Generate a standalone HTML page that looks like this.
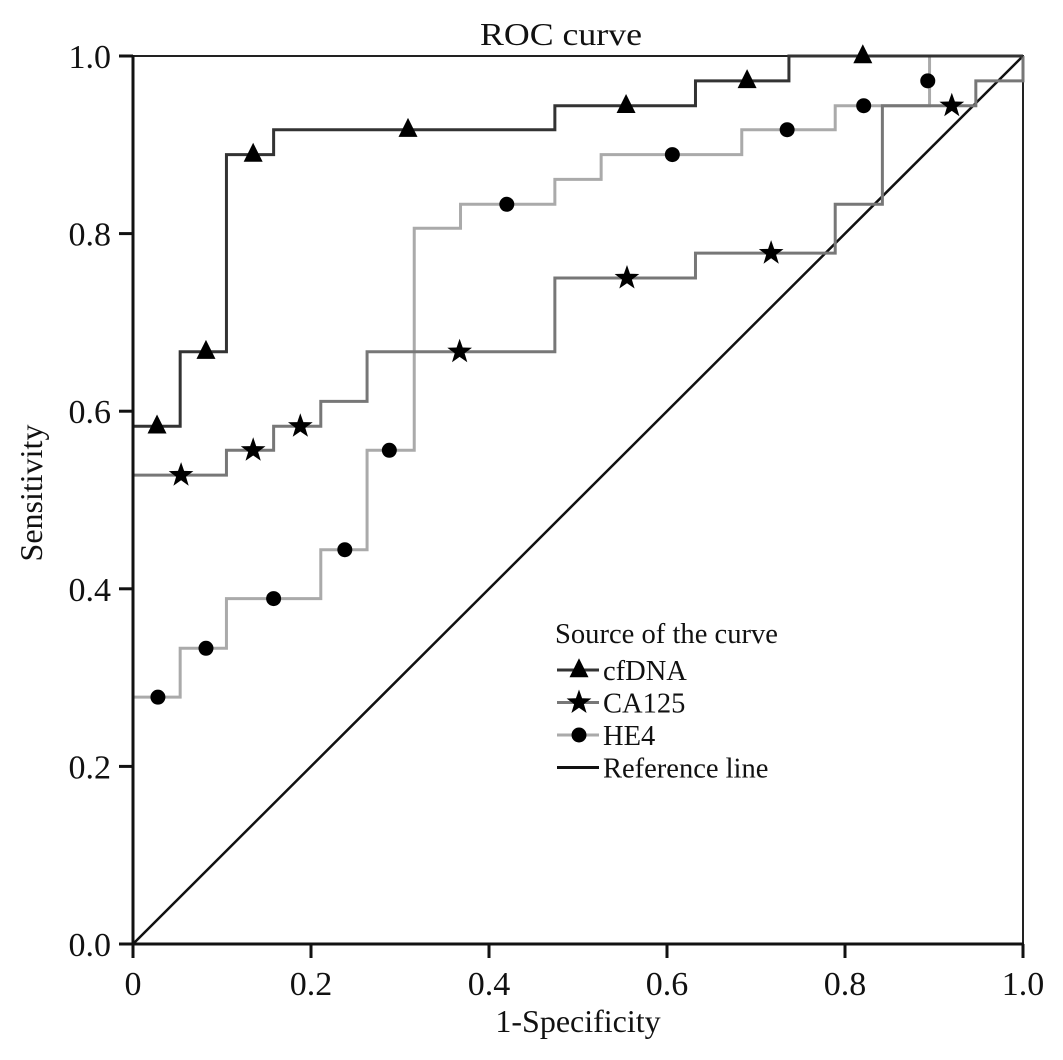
<!DOCTYPE html>
<html><head><meta charset="utf-8"><style>
html,body{margin:0;padding:0;background:#fff;}
svg{display:block;font-family:"Liberation Serif",serif;}
</style></head><body>
<svg id="chart" width="1063" height="1060" viewBox="0 0 1063 1060" xmlns="http://www.w3.org/2000/svg">
<rect width="1063" height="1060" fill="#fff"/>
<g id="plot"></g>
</svg>
<script>
// Step-curve vertices: at each x the curve rises to y
const cfX = [0, 0.053, 0.105, 0.158, 0.474, 0.632, 0.737];
const cfY = [0.583, 0.667, 0.889, 0.917, 0.944, 0.972, 1.0];
const caX = [0, 0.105, 0.158, 0.211, 0.263, 0.474, 0.632, 0.789, 0.842, 0.947];
const caY = [0.528, 0.556, 0.583, 0.611, 0.667, 0.750, 0.778, 0.833, 0.944, 0.972];
const heX = [0, 0.053, 0.105, 0.211, 0.263, 0.316, 0.368, 0.474, 0.526, 0.684, 0.789, 0.895];
const heY = [0.278, 0.333, 0.389, 0.444, 0.556, 0.806, 0.833, 0.861, 0.889, 0.917, 0.944, 1.0];
// Marker positions
const cfMX = [0.027, 0.082, 0.135, 0.309, 0.554, 0.690, 0.820];
const cfMY = [0.583, 0.667, 0.889, 0.917, 0.944, 0.972, 1.0];
const caMX = [0.054, 0.135, 0.188, 0.367, 0.555, 0.717, 0.920];
const caMY = [0.528, 0.556, 0.583, 0.667, 0.750, 0.778, 0.944];
const heMX = [0.028, 0.082, 0.158, 0.238, 0.288, 0.420, 0.606, 0.735, 0.821, 0.893];
const heMY = [0.278, 0.333, 0.389, 0.444, 0.556, 0.833, 0.889, 0.917, 0.944, 0.972];
const xTicks = [0, 0.2, 0.4, 0.6, 0.8, 1.0];
const xTickLabels = ["0", "0.2", "0.4", "0.6", "0.8", "1.0"];
const yTicks = [0, 0.2, 0.4, 0.6, 0.8, 1.0];
const yTickLabels = ["0.0", "0.2", "0.4", "0.6", "0.8", "1.0"];
const seriesNames = ["cfDNA", "CA125", "HE4", "Reference line"];

const X0 = 133, X1 = 1023, Y0 = 944, Y1 = 56;
const sx = v => X0 + (X1 - X0) * v;
const sy = v => Y0 - (Y0 - Y1) * v;
const NS = "http://www.w3.org/2000/svg";
const plot = document.getElementById("plot");
function mk(tag, attrs, parent) {
  const e = document.createElementNS(NS, tag);
  for (const k in attrs) e.setAttribute(k, attrs[k]);
  (parent || plot).appendChild(e);
  return e;
}
let e;
e = mk("path", {d: `M${X0} ${Y1} H${X1} V${Y0}`, fill: "none", stroke: "#222", "stroke-width": 2});



function stepPath(xs, ys) {
  let d = `M${sx(xs[0])} ${sy(0)}`;
  for (let i = 0; i < xs.length; i++) {
    d += ` V${sy(ys[i])}`;
    d += ` H${sx(i + 1 < xs.length ? xs[i + 1] : 1)}`;
  }
  d += ` V${sy(1)}`;
  return d;
}
function triangle(cx, cy, s) {
  return `M${cx} ${cy - s * 0.62} L${cx + s / 2} ${cy + s * 0.38} L${cx - s / 2} ${cy + s * 0.38}Z`;
}
function star(cx, cy, R) {
  let d = "", r = R * 0.4;
  for (let i = 0; i < 10; i++) {
    const a = -Math.PI / 2 + i * Math.PI / 5, rr = i % 2 ? r : R;
    d += (i ? "L" : "M") + (cx + rr * Math.cos(a)).toFixed(1) + " " + (cy + rr * Math.sin(a)).toFixed(1);
  }
  return d + "Z";
}
function marker(kind, cx, cy, name) {
  let m;
  if (kind === "tri") m = mk("path", {d: triangle(cx, cy, 19), fill: "#000"});
  else if (kind === "star") m = mk("path", {d: star(cx, cy, 13), fill: "#000"});
  else m = mk("circle", {cx: cx, cy: cy, r: 7.5, fill: "#000"});
  
  
}

e = mk("line", {x1: sx(0), y1: sy(0), x2: sx(1), y2: sy(1), stroke: "#111", "stroke-width": 2.5});



e = mk("path", {d: stepPath(heX, heY), fill: "none", stroke: "#aaa", "stroke-width": 3});


e = mk("path", {d: stepPath(caX, caY), fill: "none", stroke: "#777", "stroke-width": 3});


e = mk("path", {d: stepPath(cfX, cfY), fill: "none", stroke: "#333", "stroke-width": 3});



heMX.forEach((v, i) => marker("dot", sx(v), sy(heMY[i]), "he4-point"));
caMX.forEach((v, i) => marker("star", sx(v), sy(caMY[i]), "ca125-point"));
cfMX.forEach((v, i) => marker("tri", sx(v), sy(cfMY[i]), "cfdna-point"));

e = mk("line", {x1: X0, y1: Y1 - 1, x2: X0, y2: Y0 + 2, stroke: "#111", "stroke-width": 3});


e = mk("line", {x1: X0 - 1, y1: Y0, x2: X1 + 1, y2: Y0, stroke: "#111", "stroke-width": 3});



xTicks.forEach((v, i) => {
  const t = mk("line", {x1: sx(v), y1: Y0, x2: sx(v), y2: Y0 + 14, stroke: "#111", "stroke-width": 3});
  
  
  const l = mk("text", {x: sx(v), y: 995, "font-size": 34, "text-anchor": "middle", fill: "#111"});
  l.textContent = xTickLabels[i];
  
  
});
yTicks.forEach((v, i) => {
  const t = mk("line", {x1: X0 - 14, y1: sy(v), x2: X0, y2: sy(v), stroke: "#111", "stroke-width": 3});
  
  
  const l = mk("text", {x: 111, y: sy(v) + 12, "font-size": 34, "text-anchor": "end", fill: "#111"});
  l.textContent = yTickLabels[i];
  
  
});

e = mk("text", {x: 561, y: 45, "font-size": 32, "text-anchor": "middle", fill: "#111", textLength: 162, lengthAdjust: "spacingAndGlyphs"});
e.textContent = "ROC curve";


e = mk("text", {x: 578, y: 1032, "font-size": 32, "text-anchor": "middle", fill: "#111"});
e.textContent = "1-Specificity";


e = mk("text", {x: 0, y: 0, "font-size": 32, "text-anchor": "middle", fill: "#111", transform: "translate(42 493) rotate(-90)"});
e.textContent = "Sensitivity";



e = mk("text", {x: 555, y: 643, "font-size": 28, fill: "#111", textLength: 223, lengthAdjust: "spacingAndGlyphs"});
e.textContent = "Source of the curve";


const legColors = ["#333", "#777", "#aaa", "#111"];
const legKinds = ["tri", "star", "dot", null];
seriesNames.forEach((n, i) => {
  const cy = 670 + i * 32.5;
  const ln = mk("line", {x1: 557, y1: cy, x2: 599, y2: cy, stroke: legColors[i], "stroke-width": 3});
  
  
  if (legKinds[i]) marker(legKinds[i], 579, cy, "legend-marker");
  const t = mk("text", {x: 603, y: cy + 10, "font-size": 28.5, fill: "#111"});
  t.textContent = n;
  
  
});
</script>
</body></html>
